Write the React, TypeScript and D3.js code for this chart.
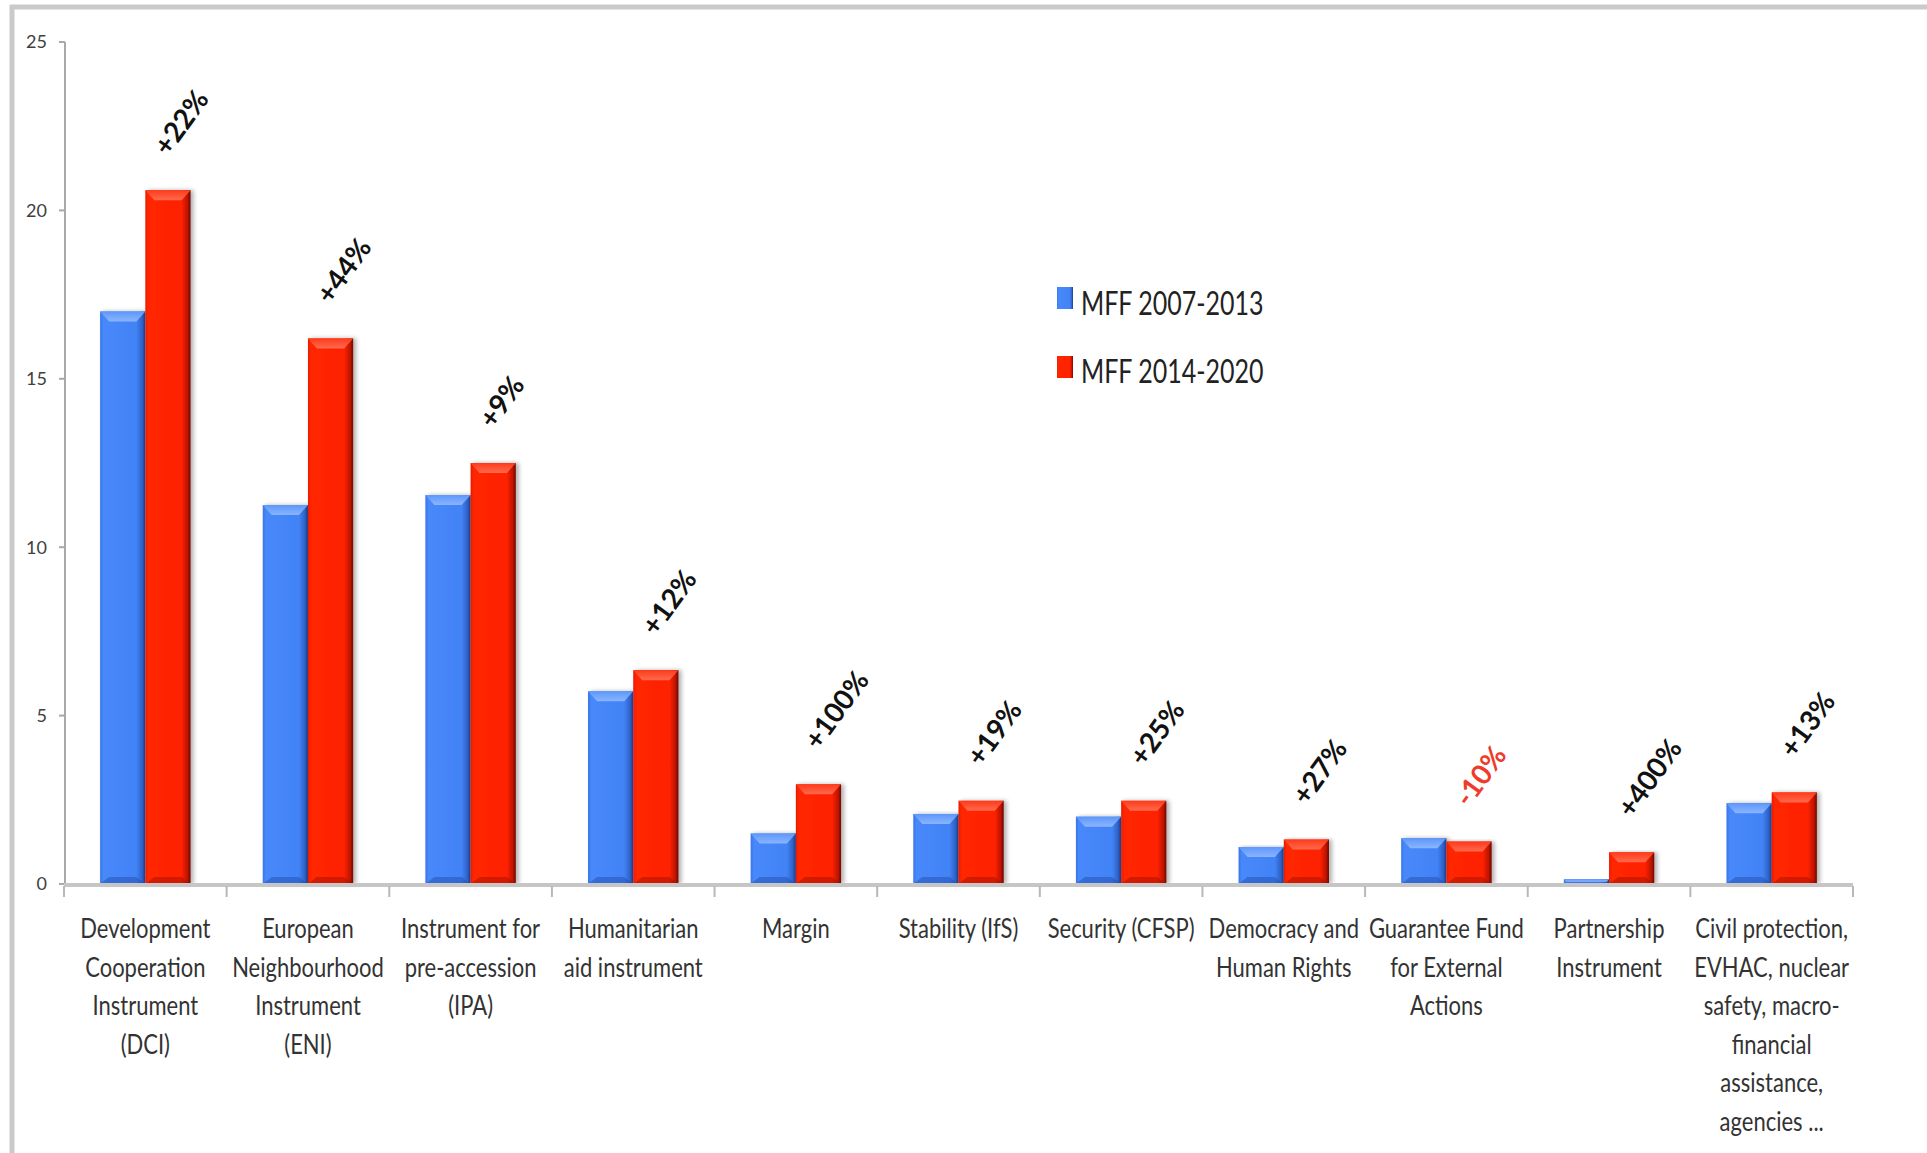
import React from "react";
import * as d3 from "d3";

const categories: string[][] = [
  ["Development", "Cooperation", "Instrument", "(DCI)"],
  ["European", "Neighbourhood", "Instrument", "(ENI)"],
  ["Instrument for", "pre-accession", "(IPA)"],
  ["Humanitarian", "aid instrument"],
  ["Margin"],
  ["Stability (IfS)"],
  ["Security (CFSP)"],
  ["Democracy and", "Human Rights"],
  ["Guarantee Fund", "for External", "Actions"],
  ["Partnership", "Instrument"],
  ["Civil protection,", "EVHAC, nuclear", "safety, macro-", "financial", "assistance,", "agencies ..."],
];

const mff2007: number[] = [17.0, 11.25, 11.55, 5.72, 1.5, 2.08, 2.0, 1.1, 1.36, 0.14, 2.4];
const mff2014: number[] = [20.6, 16.2, 12.5, 6.35, 2.96, 2.47, 2.47, 1.32, 1.26, 0.94, 2.72];
const changes: string[] = ["+22%", "+44%", "+9%", "+12%", "+100%", "+19%", "+25%", "+27%", "-10%", "+400%", "+13%"];
const seriesNames: string[] = ["MFF 2007-2013", "MFF 2014-2020"];
const yTicks: number[] = [0, 5, 10, 15, 20, 25];

const W = 1927;
const H = 1153;
const FONT = "Lato, 'Open Sans', sans-serif";

export default function App() {
  const x = d3.scaleBand<number>().domain(d3.range(categories.length)).range([64, 1853]).padding(0);
  const y = d3.scaleLinear().domain([0, 25]).range([884, 42]);
  const bw = x.bandwidth();
  const barW = bw * 0.278;
  const y0 = y(0);

  const bar = (i: number, v: number, s: number) => {
    const cx = (x(i) as number) + bw / 2;
    const bx = s === 0 ? cx - barW : cx;
    const top = y(v);
    const h = y0 - top;
    const bev = Math.min(10, h / 2);
    const ins = Math.min(9, bev);
    const botB = Math.min(7, h / 3);
    const body = s === 0 ? "url(#blueBody)" : "url(#redBody)";
    const topC = s === 0 ? "url(#blueTop)" : "url(#redTop)";
    const botC = s === 0 ? "#1f4aa8" : "#9a1200";
    return (
      <g key={`b${s}-${i}`}>
        <rect x={bx} y={top} width={barW} height={h} fill={body} filter="url(#shadow)" />
        <polygon
          points={`${bx},${top} ${bx + barW},${top} ${bx + barW - ins},${top + bev} ${bx + ins},${top + bev}`}
          fill={topC}
        />
        <polygon
          points={`${bx},${y0} ${bx + barW},${y0} ${bx + barW - ins},${y0 - botB} ${bx + ins},${y0 - botB}`}
          fill={botC}
          opacity={0.45}
        />
      </g>
    );
  };

  return (
    <svg width={W} height={H} style={{ position: "absolute", left: 0, top: 0, background: "#fff" }}>
      <defs>
        <linearGradient id="blueBody" x1="0" x2="1" y1="0" y2="0">
          <stop offset="0" stopColor="#3a74e6" />
          <stop offset="0.07" stopColor="#4788fa" />
          <stop offset="0.8" stopColor="#4283f6" />
          <stop offset="0.93" stopColor="#2f62c8" />
          <stop offset="1" stopColor="#1b3a85" />
        </linearGradient>
        <linearGradient id="redBody" x1="0" x2="1" y1="0" y2="0">
          <stop offset="0" stopColor="#e81c00" />
          <stop offset="0.07" stopColor="#ff2600" />
          <stop offset="0.8" stopColor="#ff2200" />
          <stop offset="0.93" stopColor="#c01400" />
          <stop offset="1" stopColor="#6e0800" />
        </linearGradient>
        <linearGradient id="blueTop" x1="0" x2="0" y1="0" y2="1">
          <stop offset="0" stopColor="#5d97fb" />
          <stop offset="1" stopColor="#8ab5ff" />
        </linearGradient>
        <linearGradient id="redTop" x1="0" x2="0" y1="0" y2="1">
          <stop offset="0" stopColor="#ff3a1a" />
          <stop offset="1" stopColor="#ff6a4e" />
        </linearGradient>
        <filter id="shadow" x="-20%" y="-5%" width="140%" height="110%">
          <feDropShadow dx="3" dy="0" stdDeviation="2" floodColor="#000" floodOpacity="0.3" />
        </filter>
      </defs>

      {/* frame */}
      <line x1={10} x2={W} y1={7} y2={7} stroke="#cacaca" strokeWidth={5} />
      <line x1={12} x2={12} y1={5} y2={H} stroke="#cacaca" strokeWidth={5} />

      {/* y axis */}
      <line x1={65} x2={65} y1={y(25)} y2={y0} stroke="#a9a9a9" strokeWidth={2} />
      {yTicks.map((t) => (
        <g key={`yt${t}`}>
          <line x1={59} x2={65} y1={y(t)} y2={y(t)} stroke="#a9a9a9" strokeWidth={2} />
          <text x={47} y={y(t)} dy="0.35em" textAnchor="end" fontFamily={FONT} fontSize={18} fill="#404040">
            {t}
          </text>
        </g>
      ))}

      {/* bars */}
      {mff2007.map((v, i) => bar(i, v, 0))}
      {mff2014.map((v, i) => bar(i, v, 1))}

      {/* x axis */}
      <line x1={64} x2={1853} y1={y0 + 1} y2={y0 + 1} stroke="#c6c6c6" strokeWidth={4} />
      {d3.range(categories.length + 1).map((i) => {
        const xx = i < categories.length ? (x(i) as number) : (x(categories.length - 1) as number) + bw;
        return <line key={`xt${i}`} x1={xx} x2={xx} y1={y0 + 2} y2={y0 + 13} stroke="#b8b8b8" strokeWidth={2} />;
      })}

      {/* category labels */}
      {categories.map((lines, i) => {
        const cx = (x(i) as number) + bw / 2;
        return (
          <g key={`cl${i}`}>
            {lines.map((ln, j) => (
              <text
                key={j}
                transform={`translate(${cx},${938 + j * 38.6}) scale(1,1.2)`}
                textAnchor="middle"
                fontFamily={FONT}
                fontSize={22}
                fill="#333"
              >
                {ln}
              </text>
            ))}
          </g>
        );
      })}

      {/* change labels */}
      {changes.map((c, i) => {
        const cx = (x(i) as number) + bw / 2 + barW / 2;
        const top = y(mff2014[i]);
        const neg = c.startsWith("-");
        return (
          <text
            key={`ch${i}`}
            transform={`translate(${cx},${top - 33}) rotate(-54)`}
            fontFamily={FONT}
            fontSize={28}
            fontWeight={700}
            fill={neg ? "#f03a2a" : "#111"}
          >
            {c}
          </text>
        );
      })}

      {/* legend */}
      {seriesNames.map((n, k) => (
        <g key={`lg${k}`}>
          <rect
            x={1057}
            y={287 + k * 69}
            width={16}
            height={22}
            fill={k === 0 ? "url(#blueBody)" : "url(#redBody)"}
          />
          <text
            transform={`translate(1081,${315 + k * 68}) scale(1,1.28)`}
            fontFamily={FONT}
            fontSize={25}
            fill="#222"
          >
            {n}
          </text>
        </g>
      ))}
    </svg>
  );
}
